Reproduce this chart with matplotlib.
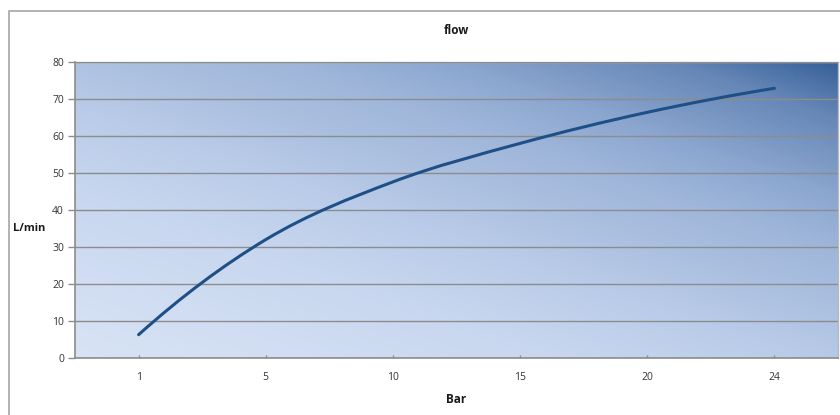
import numpy as np
import matplotlib.pyplot as plt
from matplotlib.path import Path
from matplotlib.patches import PathPatch, Rectangle
from matplotlib.colors import LinearSegmentedColormap

bar_labels = ["1", "5", "10", "15", "20", "24"]
flow = [6.3, 32.0, 47.6, 58.0, 66.4, 72.9]

plt.rcParams['font.family'] = ['Open Sans', 'DejaVu Sans']

fig = plt.figure(figsize=(8.4, 4.15), dpi=100)
ax = fig.add_axes([0.0893, 0.1373, 0.9083, 0.7133])

# outer chart frame (Excel style)
fig.patches.append(Rectangle((9 / 840, -0.01), 1.0, (404 / 415) + 0.01,
                             transform=fig.transFigure, fill=False,
                             edgecolor='#a6a6a6', lw=1.2))

# diagonal gradient background, dark in the top right corner
cmap = LinearSegmentedColormap.from_list(
    'bg', [(0.0, '#d8e3f5'), (0.3, '#c8d7ef'), (0.45, '#b9cbe8'),
           (0.55, '#acc0e0'), (0.66, '#9fb6da'), (0.76, '#8ba6cf'),
           (0.9, '#6687b7'), (1.0, '#36609a')])
u, v = np.meshgrid(np.linspace(0, 1, 300), np.linspace(0, 1, 150))
ax.imshow(0.47 * u + 0.53 * v, cmap=cmap, extent=[0, 1, 0, 1], origin='lower',
          transform=ax.transAxes, aspect='auto', zorder=0, vmin=0, vmax=1)

# category x axis, smoothed line (cardinal spline -> bezier like Excel)
x = np.arange(len(flow), dtype=float)
y = np.array(flow, dtype=float)
n = len(x)
m = np.zeros(n)
m[1:-1] = (y[2:] - y[:-2]) / 2
m[0] = 2 * (y[1] - y[0]) - m[1]
m[-1] = 2 * (y[-1] - y[-2]) - m[-2]
verts = [(x[0], y[0])]
codes = [Path.MOVETO]
for i in range(n - 1):
    verts += [(x[i] + 1 / 3, y[i] + m[i] / 3),
              (x[i + 1] - 1 / 3, y[i + 1] - m[i + 1] / 3),
              (x[i + 1], y[i + 1])]
    codes += [Path.CURVE4] * 3
ax.add_patch(PathPatch(Path(verts, codes), fill=False, edgecolor='#1f4f87',
                       lw=2.2, zorder=4, capstyle='round'))

ax.set_xlim(-0.5, len(flow) - 0.5)
ax.set_ylim(0, 80)
ax.set_xticks(x)
ax.set_xticklabels(bar_labels)
ax.set_yticks(np.arange(0, 81, 10))
ax.grid(axis='y', color='#8c8c8c', lw=1.0, zorder=1)
ax.set_axisbelow(False)
for g in ax.get_ygridlines():
    g.set_zorder(1)

ax.tick_params(axis='y', direction='out', length=5, width=1, color='#8c8c8c',
               labelsize=7.5, labelcolor='#333333', pad=3)
ax.tick_params(axis='x', direction='in', length=2.5, width=1, color='#8c8c8c',
               labelsize=7.5, labelcolor='#333333', pad=10)
for s in ['left', 'bottom']:
    ax.spines[s].set_color('#8c8c8c')
    ax.spines[s].set_linewidth(1.2)
for s in ['top', 'right']:
    ax.spines[s].set_color('#b8b8b8')
    ax.spines[s].set_linewidth(1.0)

ax.set_title('flow', fontsize=8.5, fontweight='bold', color='#1a1a1a',
             y=1.108, pad=0, va='center')
ax.set_xlabel('Bar', fontsize=8.5, fontweight='bold', color='#1a1a1a')
ax.xaxis.set_label_coords(0.5, -0.1385)
ax.xaxis.label.set_va('center')
fig.text(29 / 840, 1 - 228 / 415, 'L/min', fontsize=8, fontweight='bold',
         color='#1a1a1a', ha='center', va='center')

fig.savefig('out.png', dpi=100)
